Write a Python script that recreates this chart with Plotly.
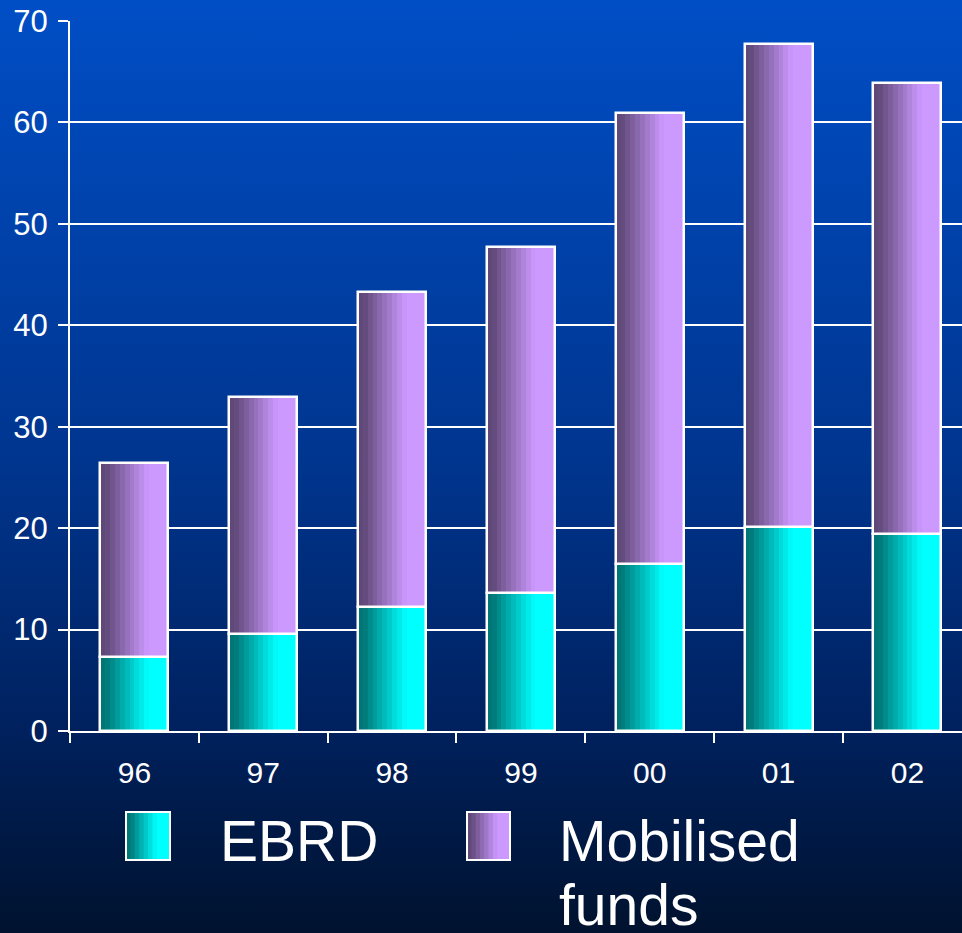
import base64
import plotly.graph_objects as go

# ---- data ----
years = ["96", "97", "98", "99", "00", "01", "02"]
ebrd = [7.3, 9.6, 12.2, 13.6, 16.5, 20.1, 19.4]
mobilised = [19.1, 23.3, 31.1, 34.1, 44.4, 47.6, 44.5]
series_names = ["EBRD", "Mobilised funds"]
y_ticks = [0, 10, 20, 30, 40, 50, 60, 70]

# ---- style ----
FONT = "Liberation Sans, Arial, sans-serif"
DARK = {"EBRD": (0, 118, 118), "Mobilised funds": (96, 72, 120)}
LIGHT = {"EBRD": (0, 255, 255), "Mobilised funds": (204, 153, 255)}
BAR_W = 0.528
N = 14


def grad_color(name, t):
    f = min(1.0, max(0.0, (t - 0.08) / 0.62))
    d, l = DARK[name], LIGHT[name]
    c = [round(d[k] + (l[k] - d[k]) * f) for k in range(3)]
    return "rgb(%d,%d,%d)" % tuple(c)


fig = go.Figure()
bases = {"EBRD": [0] * len(years), "Mobilised funds": ebrd}
values = {"EBRD": ebrd, "Mobilised funds": mobilised}

for name in series_names:
    for i in range(N):
        off = -BAR_W / 2 + i * BAR_W / N
        fig.add_trace(go.Bar(
            x=years, y=values[name], base=bases[name],
            offset=off, width=BAR_W - i * BAR_W / N,
            marker=dict(color=grad_color(name, (i + 0.5) / N), line=dict(width=0)),
            showlegend=False, hoverinfo="skip",
        ))
    fig.add_trace(go.Bar(
        x=years, y=values[name], base=bases[name],
        offset=-BAR_W / 2, width=BAR_W, name=name,
        marker=dict(color="rgba(0,0,0,0)", line=dict(color="white", width=2.5)),
        showlegend=False,
    ))

# ---- background gradient ----
svg = ('<svg xmlns="http://www.w3.org/2000/svg" width="100" height="100" preserveAspectRatio="none">'
       '<defs><linearGradient id="g" x1="0" y1="0" x2="0" y2="1">'
       '<stop offset="0" stop-color="#004ec6"/>'
       '<stop offset="0.5" stop-color="#00358e"/>'
       '<stop offset="0.78" stop-color="#00215e"/>'
       '<stop offset="1" stop-color="#00122e"/>'
       '</linearGradient></defs><rect width="100" height="100" fill="url(#g)"/></svg>')
src = "data:image/svg+xml;base64," + base64.b64encode(svg.encode()).decode()

W, H = 962, 933
ML, MR, MT, MB = 70, 0, 21, 202
PW, PH = W - ML - MR, H - MT - MB


def px(xp):
    return (xp - ML) / PW


def py(yp):
    return (H - MB - yp) / PH


fig.add_layout_image(dict(
    source=src, xref="paper", yref="paper",
    x=px(0), y=py(0), sizex=W / PW, sizey=H / PH,
    xanchor="left", yanchor="top", sizing="stretch", layer="below",
))

# ---- legend (drawn manually for large gradient swatches) ----
shapes = []
annotations = []
legend_pos = [(126, 170, 218), (467, 510, 557)]
for name, (bx0, bx1, tx) in zip(series_names, legend_pos):
    M = 10
    for i in range(M):
        x0 = bx0 + (bx1 - bx0) * i / M
        shapes.append(dict(type="rect", xref="paper", yref="paper",
                           x0=px(x0), x1=px(bx1), y0=py(860), y1=py(812),
                           fillcolor=grad_color(name, (i + 0.5) / M), line=dict(width=0)))
    shapes.append(dict(type="rect", xref="paper", yref="paper",
                       x0=px(bx0), x1=px(bx1), y0=py(860), y1=py(812),
                       fillcolor="rgba(0,0,0,0)", line=dict(color="white", width=2)))
    words = name.split(" ")
    lines = [words[0]] if len(words) == 1 else [words[0], " ".join(words[1:])]
    for j, ln in enumerate(lines):
        annotations.append(dict(
            text=ln, xref="paper", yref="paper", x=px(tx), y=py(841 + j * 64),
            xanchor="left", yanchor="middle", showarrow=False,
            font=dict(family=FONT, size=57, color="white"),
        ))

fig.update_layout(
    width=W, height=H,
    margin=dict(l=ML, r=MR, t=MT, b=MB, pad=0),
    paper_bgcolor="#002a70", plot_bgcolor="rgba(0,0,0,0)",
    barmode="overlay", bargap=0,
    font=dict(family=FONT, color="white"),
    shapes=shapes, annotations=annotations,
    xaxis=dict(
        type="category", range=[-0.5, 6.424],
        showgrid=False, zeroline=False,
        showline=True, linecolor="white", linewidth=2,
        ticks="outside", tickson="boundaries", ticklen=10, tickwidth=2, tickcolor="white",
        tickfont=dict(size=30, color="white", family=FONT),
        ticklabelstandoff=14,
    ),
    yaxis=dict(
        range=[0, 70], tickvals=y_ticks,
        showgrid=True, gridcolor="white", gridwidth=2,
        zeroline=False, showline=True, linecolor="white", linewidth=2,
        ticks="outside", ticklen=10, tickwidth=2, tickcolor="white",
        tickfont=dict(size=31, color="white", family=FONT),
        ticklabelstandoff=4,
    ),
)

fig.write_html(
    "out.html",
    config={"displayModeBar": False},
    post_script="document.body.style.margin='0';document.body.style.overflow='hidden';",
)
